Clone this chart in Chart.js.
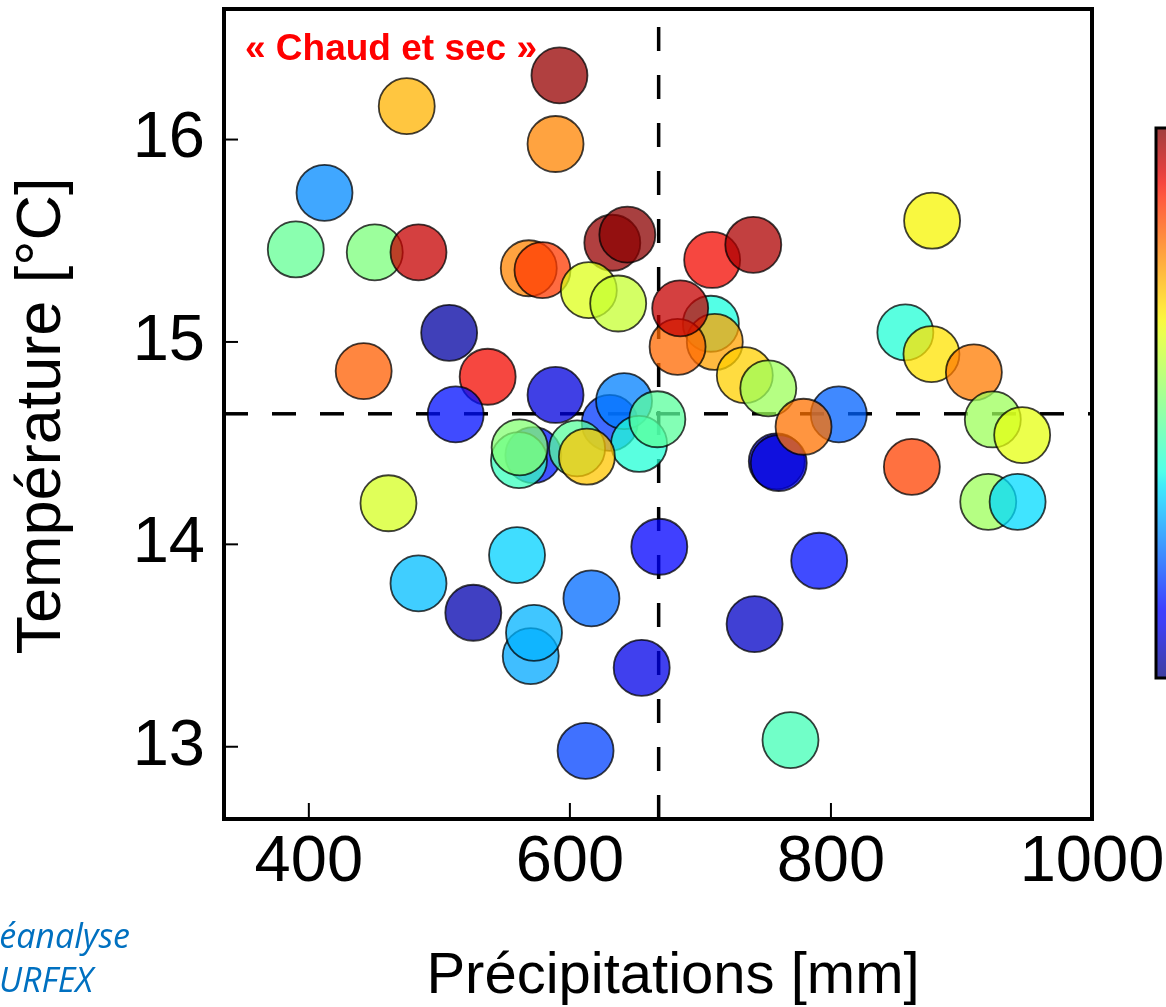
<!DOCTYPE html>
<html>
<head>
<meta charset="utf-8">
<script src="https://cdn.jsdelivr.net/npm/chart.js@4.4.1/dist/chart.umd.min.js"></script>
<style>
html,body{margin:0;padding:0;background:#fff;}
#wrap{position:relative;width:1166px;height:1007px;overflow:hidden;}
canvas{display:block;}
</style>
</head>
<body>
<div id="wrap"><canvas id="c" width="1166" height="1007"></canvas></div>
<script>
// ---- data ----
const precipitation = [475, 592, 589, 412, 390, 450.5, 484, 568.5, 579, 632.5, 644, 614.5, 637, 709, 740.5,
  708, 711, 682.5, 684.5, 734, 752, 537, 589, 630.5, 641.5, 653, 667, 572, 561, 561.5, 605.5, 613,
  507.5, 442, 512.5, 461, 559.5, 484, 668.5, 526, 570, 572.5, 616.5, 655, 612, 791, 741.5, 769,
  758.5, 760, 806, 779, 857, 877, 909.5, 924, 946.5, 862, 920.5, 943, 877.5];
const temperature = [16.165, 16.317, 15.978, 15.737, 15.457, 15.443, 15.443, 15.364, 15.355, 15.49, 15.53, 15.256, 15.19, 15.405, 15.48,
  15.09, 15.0, 14.976, 15.166, 14.836, 14.771, 14.828, 14.738, 14.60, 14.708, 14.496, 14.618, 14.441, 14.416, 14.479, 14.474, 14.433,
  15.045, 14.856, 14.642, 14.203, 13.947, 13.807, 13.988, 13.662, 13.448, 13.563, 13.733, 13.39, 12.98, 13.919, 13.606, 13.033,
  14.41, 14.402, 14.642, 14.581, 15.047, 14.94, 14.85, 14.617, 14.54, 14.383, 14.21, 14.21, 15.599];
const colourValue = [0.72, 0.98, 0.77, 0.26, 0.47, 0.50, 0.94, 0.77, 0.85, 0.98, 0.99, 0.62, 0.59, 0.90, 0.96,
  0.38, 0.74, 0.80, 0.94, 0.69, 0.54, 0.90, 0.08, 0.18, 0.25, 0.39, 0.46, 0.15, 0.42, 0.51, 0.46, 0.70,
  0.03, 0.81, 0.14, 0.61, 0.33, 0.31, 0.12, 0.04, 0.29, 0.30, 0.23, 0.09, 0.19, 0.14, 0.06, 0.43,
  0.08, 0.08, 0.22, 0.79, 0.39, 0.67, 0.78, 0.54, 0.63, 0.84, 0.54, 0.34, 0.65];
const xTickValues = [400, 600, 800, 1000];
const yTickValues = [13, 14, 15, 16];
const meanPrecip = 668;
const meanTemp = 14.645;
const xTitle = 'Précipitations [mm]';
const yTitle = 'Température [°C]';
const quadrantLabel = '« Chaud et sec »';
const sourceLines = ['Réanalyse', 'SURFEX'];

// ---- jet colormap ----
const JR = [[0,0],[0.35,0],[0.66,1],[0.89,1],[1,0.5]];
const JG = [[0,0],[0.125,0],[0.375,1],[0.64,1],[0.91,0],[1,0]];
const JB = [[0,0.5],[0.11,1],[0.34,1],[0.65,0],[1,0]];
function seg(p, v){
  for (let i=1;i<p.length;i++){
    if (v<=p[i][0]){ const t=(v-p[i-1][0])/(p[i][0]-p[i-1][0]); return p[i-1][1]+t*(p[i][1]-p[i-1][1]); }
  }
  return p[p.length-1][1];
}
function jet(v, a){
  v=Math.max(0,Math.min(1,v));
  return `rgba(${Math.round(seg(JR,v)*255)},${Math.round(seg(JG,v)*255)},${Math.round(seg(JB,v)*255)},${a})`;
}

const points = precipitation.map((p,i)=>({x:p, y:temperature[i]}));
const fills = colourValue.map(v=>jet(v,0.75));

const FONT = "'Liberation Sans', Arial, Helvetica, sans-serif";
const AREA = {left:224, top:9, right:1092, bottom:819};

const decor = {
  id:'decor',
  beforeDatasetsDraw(chart){
    const {ctx, chartArea:a, scales:{x,y}} = chart;
    ctx.save();
    ctx.strokeStyle='#000'; ctx.lineWidth=3.5; ctx.setLineDash([24,24]);
    const px = x.getPixelForValue(meanPrecip);
    ctx.beginPath(); ctx.moveTo(px,a.bottom); ctx.lineTo(px,a.top); ctx.stroke();
    const py = y.getPixelForValue(meanTemp);
    ctx.beginPath(); ctx.moveTo(a.left,py); ctx.lineTo(a.right,py); ctx.stroke();
    ctx.restore();
  },
  afterDraw(chart){
    const {ctx, chartArea:a, scales:{x,y}} = chart;
    ctx.save();
    // inward ticks
    ctx.strokeStyle='#000'; ctx.lineWidth=2;
    x.ticks.forEach(t=>{ const p=x.getPixelForValue(t.value); ctx.beginPath(); ctx.moveTo(p,a.bottom); ctx.lineTo(p,a.bottom-16); ctx.stroke(); });
    y.ticks.forEach(t=>{ const p=y.getPixelForValue(t.value); ctx.beginPath(); ctx.moveTo(a.left,p); ctx.lineTo(a.left+14,p); ctx.stroke(); });
    // frame
    ctx.lineWidth=4; ctx.strokeRect(a.left, a.top, a.right-a.left, a.bottom-a.top);
    // quadrant label
    ctx.fillStyle='#ff0000'; ctx.font=`bold 37px ${FONT}`; ctx.textAlign='left'; ctx.textBaseline='alphabetic';
    ctx.fillText(quadrantLabel, 245, 59.5);
    // axis titles
    ctx.fillStyle='#000';
    ctx.font=`58px ${FONT}`; ctx.textAlign='center';
    ctx.fillText(xTitle, 673, 993);
    ctx.save(); ctx.translate(60, 416); ctx.rotate(-Math.PI/2);
    ctx.font=`63px ${FONT}`; ctx.fillText(yTitle, 0, 0); ctx.restore();
    // source text (cut by the left edge as in the original)
    ctx.fillStyle='#0070c0'; ctx.font=`italic 34px 'Open Sans', 'Noto Sans', sans-serif`; ctx.textAlign='right';
    ctx.fillText(sourceLines[0], 130, 948);
    ctx.fillText(sourceLines[1], 93, 992);
    // colour bar
    const top=128, bot=678, left=1156;
    const g = ctx.createLinearGradient(0, bot, 0, top);
    for (let i=0;i<=40;i++){ g.addColorStop(i/40, jet(i/40, 0.75)); }
    ctx.fillStyle=g; ctx.fillRect(left, top, 30, bot-top);
    ctx.strokeStyle='#000'; ctx.lineWidth=3; ctx.strokeRect(left, top, 30, bot-top);
    ctx.restore();
  }
};

const chart = new Chart(document.getElementById('c'), {
  type:'scatter',
  data:{ datasets:[{
    data: points,
    backgroundColor: fills,
    borderColor: 'rgba(0,0,0,0.75)',
    borderWidth: 1.8,
    pointRadius: 28,
    pointHoverRadius: 28
  }]},
  options:{
    responsive:false, maintainAspectRatio:false, animation:false, events:[],
    layout:{ autoPadding:false, padding:{ left:0, right:74, top:9, bottom:0 } },
    plugins:{ legend:{display:false}, tooltip:{enabled:false} },
    scales:{
      x:{
        type:'linear', min:335, max:1000,
        afterBuildTicks: s=>{ s.ticks = xTickValues.map(v=>({value:v})); },
        ticks:{ autoSkip:false, maxRotation:0, color:'#000', padding:5, font:{family:FONT, size:65}, callback:v=>String(v) },
        grid:{ display:false, drawTicks:false }, border:{ display:false },
        afterFit: s=>{ s.height = 188; s.paddingLeft=0; s.paddingRight=0; }
      },
      y:{
        type:'linear', min:12.643, max:16.645,
        afterBuildTicks: s=>{ s.ticks = yTickValues.map(v=>({value:v})); },
        ticks:{ autoSkip:false, color:'#000', padding:19, font:{family:FONT, size:65}, callback:v=>String(v) },
        grid:{ display:false, drawTicks:false }, border:{ display:false },
        afterFit: s=>{ s.width = 224; s.paddingTop=0; s.paddingBottom=0; }
      }
    }
  },
  plugins:[decor]
});

// nudge layout padding so that the plot area lands where the original has it
for (let k=0;k<4;k++){
  const a = chart.chartArea, p = chart.options.layout.padding;
  const dt = AREA.top - a.top, db = AREA.bottom - a.bottom, dl = AREA.left - a.left, dr = AREA.right - a.right;
  if (Math.abs(dt)<0.5 && Math.abs(db)<0.5 && Math.abs(dl)<0.5 && Math.abs(dr)<0.5) break;
  p.top += dt; p.bottom -= db; p.left += dl; p.right -= dr;
  chart.update();
}
</script>
</body>
</html>
